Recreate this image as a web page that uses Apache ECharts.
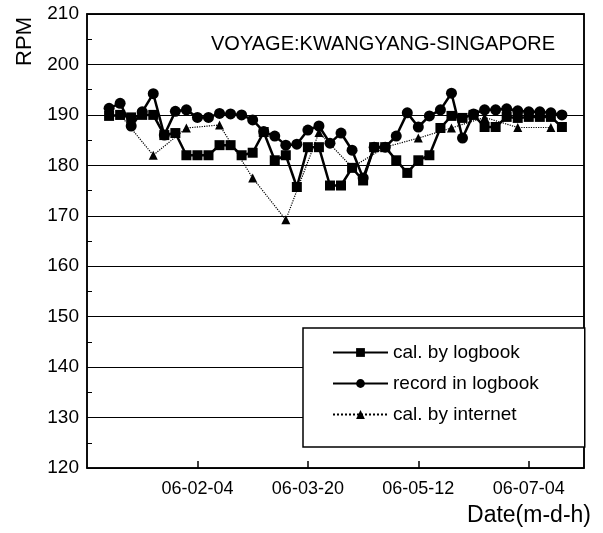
<!DOCTYPE html>
<html>
<head>
<meta charset="utf-8">
<script src="https://cdn.jsdelivr.net/npm/echarts@6/dist/echarts.min.js"></script>
<style>
  html, body { margin: 0; padding: 0; background: #fff; }
  #chart { width: 603px; height: 533px; }
</style>
</head>
<body>
<div id="chart"></div>
<script>
// hours counted as 24*day + hour of month 06
var times = [20, 24, 28, 32, 36, 40, 44, 48, 52, 56, 60, 64, 68, 72, 76, 80, 84, 88, 92, 96, 100,
  104, 108, 112, 116, 120, 124, 128, 132, 136, 140, 144, 148, 152, 156, 160, 164, 168, 172, 176, 180, 184];
var calLogbook = [189.8, 190, 189.5, 190, 190, 186, 186.4, 182, 182, 182, 184, 184, 182, 182.5, 186.6,
  181, 182, 175.7, 183.6, 183.6, 176, 176, 179.5, 177, 183.6, 183.6, 181, 178.5, 181, 182, 187.4,
  189.8, 189.4, 190, 187.6, 187.6, 189.6, 189.4, 189.6, 189.6, 189.6, 187.6];
var recordLogbook = [191.3, 192.3, 187.8, 190.6, 194.2, 186, 190.7, 191, 189.5, 189.5, 190.3, 190.2, 190,
  189, 186.7, 185.8, 184, 184.2, 187, 187.8, 184.4, 186.4, 183, 177.5, 183.6, 183.6, 185.8, 190.4,
  187.6, 189.8, 191, 194.3, 185.4, 190.2, 191, 191, 191.2, 190.8, 190.6, 190.6, 190.4, 190];
var internetTimes = [24, 36, 48, 60, 72, 84, 96, 108, 120, 132, 144, 156, 168, 180];
var internetRpm = [190, 182, 187.4, 188, 177.5, 169.2, 186.5, 179.6, 183.6, 185.4, 187.4, 189.5, 187.5, 187.5];
var tickHours = [52, 92, 132, 172];

var font = "'Liberation Sans', Arial, sans-serif";

function pad(n) { return (n < 10 ? "0" : "") + n; }
function dateLabel(h) {
  return "06-" + pad(Math.floor(h / 24)) + "-" + pad(h % 24);
}
function pairs(xs, ys) {
  return xs.map(function (x, i) { return [x, ys[i]]; });
}

var chart = echarts.init(document.getElementById("chart"), null, { renderer: "canvas" });
chart.setOption({
  backgroundColor: "#fff",
  animation: false,
  grid: { left: 87, right: 19, top: 14, bottom: 65, show: true, borderColor: "#000", borderWidth: 1.5 },
  title: {
    text: "VOYAGE:KWANGYANG-SINGAPORE",
    left: 206, top: 29,
    textStyle: { fontFamily: font, fontSize: 20, fontWeight: "normal", color: "#000" }
  },
  legend: {
    orient: "vertical",
    left: 303, top: 328,
    padding: [15, 46, 23, 29],
    itemGap: 12,
    itemWidth: 55,
    itemHeight: 11,
    borderColor: "#000",
    borderWidth: 1.5,
    backgroundColor: "#fff",
    textStyle: { fontFamily: font, fontSize: 19, color: "#000" },
    data: ["cal. by logbook", "record in logbook", "cal. by internet"]
  },
  graphic: [
    {
      type: "text", left: 14, top: 17, rotation: Math.PI / 2,
      style: { text: "RPM", font: "22px " + font, fill: "#000" }
    },
    {
      type: "text", right: 12, top: 504,
      style: { text: "Date(m-d-h)", font: "23px " + font, fill: "#000" }
    }
  ],
  xAxis: [{
    type: "value",
    min: 12, max: 192,
    axisLine: { lineStyle: { color: "#000", width: 1.5 } },
    axisTick: { inside: true, length: 7, customValues: tickHours, lineStyle: { color: "#000", width: 1.5 } },
    axisLabel: {
      customValues: tickHours, margin: 12,
      fontFamily: font, fontSize: 18, color: "#000",
      formatter: function (v) { return dateLabel(v); }
    },
    splitLine: { show: false }
  }, {
    type: "value", position: "top",
    min: 12, max: 192,
    axisLine: { lineStyle: { color: "#000", width: 1.5 } },
    axisTick: { show: false }, axisLabel: { show: false }, splitLine: { show: false }
  }],
  yAxis: [{
    type: "value",
    min: 120, max: 210, interval: 10,
    axisLine: { show: true, lineStyle: { color: "#000", width: 1.5 } },
    axisTick: { show: true, inside: true, length: 5, lineStyle: { color: "#000" } },
    minorTick: { show: true, splitNumber: 2, length: 5, lineStyle: { color: "#000" } },
    axisLabel: { fontFamily: font, fontSize: 19, color: "#000", margin: 8 },
    splitLine: { show: true, lineStyle: { color: "#000", width: 1.2 } }
  }, {
    type: "value", position: "right",
    min: 120, max: 210, interval: 10,
    axisLine: { show: true, lineStyle: { color: "#000", width: 1.5 } },
    axisTick: { show: true, inside: true, length: 5, lineStyle: { color: "#000" } },
    axisLabel: { show: false },
    splitLine: { show: false }
  }],
  series: [
    {
      name: "cal. by logbook", type: "line",
      data: pairs(times, calLogbook),
      symbol: "rect", symbolSize: 10,
      itemStyle: { color: "#000" },
      lineStyle: { color: "#000", width: 2.5 },
      z: 4
    },
    {
      name: "record in logbook", type: "line",
      data: pairs(times, recordLogbook),
      symbol: "circle", symbolSize: 11,
      itemStyle: { color: "#000" },
      lineStyle: { color: "#000", width: 2.5 },
      z: 3
    },
    {
      name: "cal. by internet", type: "line",
      data: pairs(internetTimes, internetRpm),
      symbol: "triangle", symbolSize: 9,
      itemStyle: { color: "#000" },
      lineStyle: { color: "#000", width: 1.2, type: "dotted" },
      z: 5
    }
  ]
});
</script>
</body>
</html>
